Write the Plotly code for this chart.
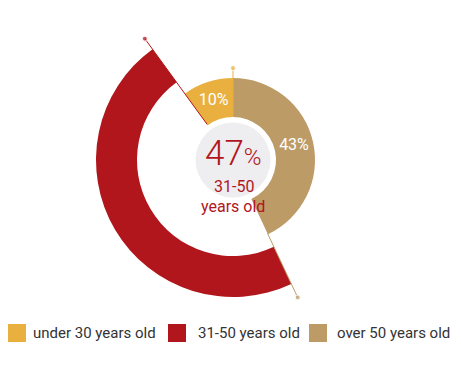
import plotly.graph_objects as go

categories = ["under 30 years old", "31-50 years old", "over 50 years old"]
values = [10, 47, 43]
labels = ["10%", "", "43%"]
colors = ["#E9B03F", "#B1161C", "#BD9B67"]
inner_r = [43, 96, 43]
outer_r = [82, 137, 82]
line_start = [43, 44, 81]
line_end = [92, 150, 152]

# page body has an 8px default margin: work in window pixels, shift by OFF
OFF = 8
W, H = 461 - 2 * OFF, 369 - 2 * OFF
CX, CY, R = 233 - OFF, 160 - OFF, 152


def px(x):
    return (x - OFF) / W


def py(y):
    return 1 - (y - OFF) / H


total = sum(values)
starts, widths, centers = [], [], []
acc = 0
for v in values:
    w = v / total * 360
    starts.append(acc)
    widths.append(w)
    centers.append(acc + w / 2)
    acc += w

fig = go.Figure()

fig.add_trace(go.Barpolar(theta=[180], r=[37.5], base=[0], width=[360],
                          marker=dict(color="#EEEDF0", line=dict(width=0)),
                          hoverinfo="skip", showlegend=False))

for i, c in enumerate(categories):
    fig.add_trace(go.Barpolar(
        theta=[centers[i]], width=[widths[i]], base=[inner_r[i]],
        r=[outer_r[i] - inner_r[i]], name=c,
        marker=dict(color=colors[i], line=dict(width=0)),
        hoverinfo="skip", showlegend=False))

for i, c in enumerate(categories):
    fig.add_trace(go.Scatterpolar(
        r=[line_start[i], line_end[i]], theta=[starts[i], starts[i]],
        mode="lines+markers", line=dict(color=colors[i], width=1),
        marker=dict(size=[0, 5], color=colors[i]),
        hoverinfo="skip", showlegend=False))

for i, c in enumerate(categories):
    if labels[i]:
        fig.add_trace(go.Scatterpolar(
            r=[(inner_r[i] + outer_r[i]) / 2], theta=[centers[i]],
            mode="text", text=[labels[i]],
            textfont=dict(color="white", size=16, family="Roboto"),
            hoverinfo="skip", showlegend=False))

fig.update_layout(
    width=W, height=H, margin=dict(l=0, r=0, t=0, b=0),
    paper_bgcolor="white", plot_bgcolor="white",
    polar=dict(
        domain=dict(x=[(CX - R) / W, (CX + R) / W], y=[1 - (CY + R) / H, 1 - (CY - R) / H]),
        bgcolor="rgba(0,0,0,0)",
        angularaxis=dict(visible=False, rotation=90, direction="counterclockwise"),
        radialaxis=dict(visible=False, range=[0, R]),
        bargap=0,
    ),
    font=dict(family="Roboto"),
)

red = colors[1]
fig.add_annotation(x=px(233), y=py(153), xref="paper", yref="paper",
                   text="47<span style='font-size:24px'>%</span>", showarrow=False,
                   font=dict(size=35, color=red, family="Roboto", weight=300),
                   xanchor="center", yanchor="middle")
fig.add_annotation(x=px(234), y=py(186), xref="paper", yref="paper",
                   text="31-50", showarrow=False,
                   font=dict(size=16, color=red, family="Roboto"),
                   xanchor="center", yanchor="middle")
fig.add_annotation(x=px(233), y=py(206), xref="paper", yref="paper",
                   text="years old", showarrow=False,
                   font=dict(size=16, color=red, family="Roboto"),
                   xanchor="center", yanchor="middle")

leg_sq_x = [8, 168, 309]
leg_tx_x = [31, 196, 335]
for i, c in enumerate(categories):
    fig.add_shape(type="rect", xref="paper", yref="paper",
                  x0=px(leg_sq_x[i]), x1=px(leg_sq_x[i] + 18),
                  y0=py(342), y1=py(324),
                  fillcolor=colors[i], line=dict(width=0))
    fig.add_annotation(x=px(leg_tx_x[i]), y=py(333), xref="paper", yref="paper",
                       text=c, showarrow=False, xanchor="left", yanchor="middle",
                       font=dict(size=15, color="#333333", family="Roboto"))

fig.write_html("out.html")
